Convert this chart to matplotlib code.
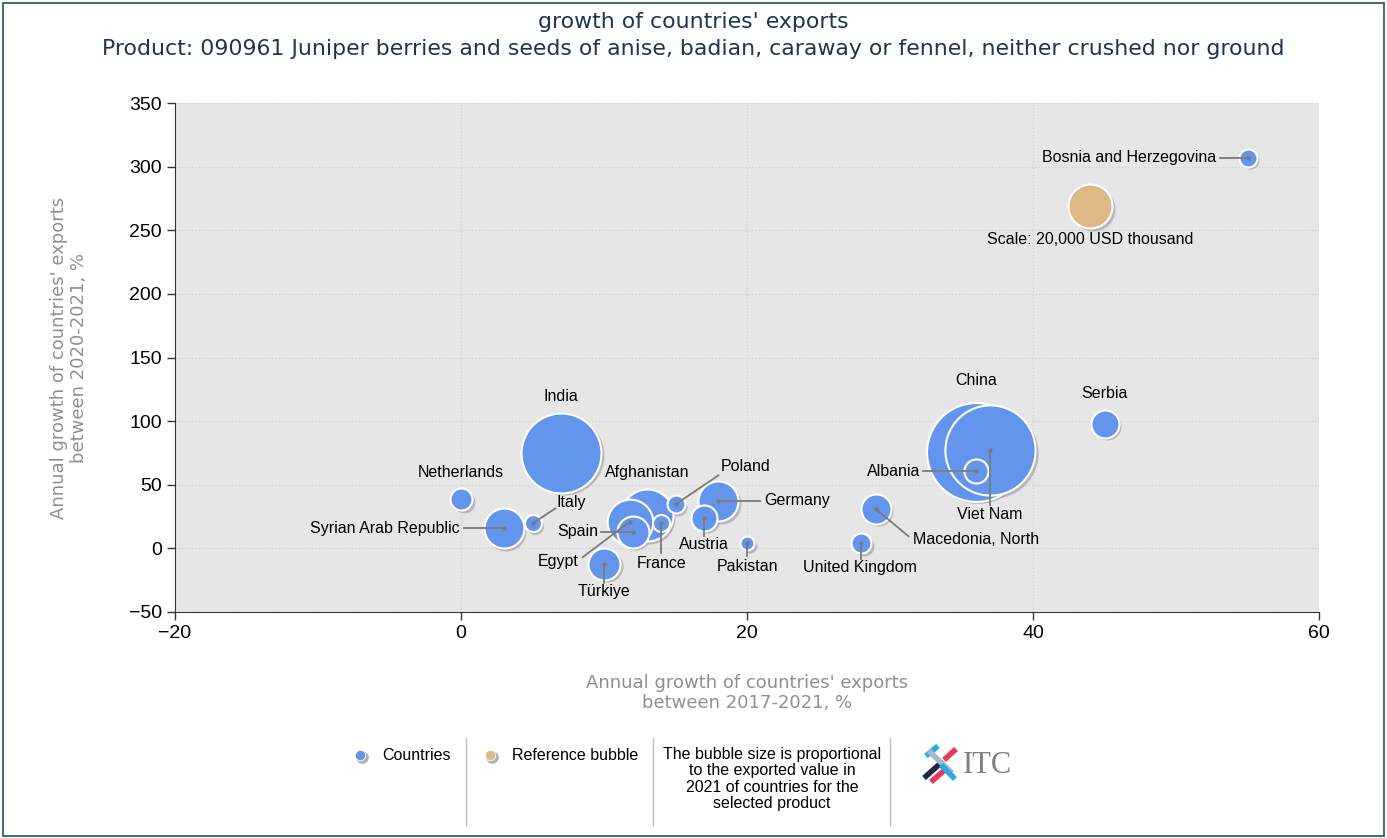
import numpy as np
import matplotlib
matplotlib.use("Agg")
import matplotlib.pyplot as plt
import matplotlib.transforms as mtransforms
from matplotlib.patches import Rectangle

# Data: growth 2017-2021 (x), growth 2020-2021 (y), exported value 2021 (USD thousand)
countries = ["China", "Viet Nam", "India", "Afghanistan", "Egypt", "Germany",
             "Syrian Arab Republic", "Spain", "Türkiye", "Macedonia, North",
             "Serbia", "Austria", "Albania", "Netherlands", "United Kingdom",
             "Bosnia and Herzegovina", "Poland", "France", "Italy", "Pakistan"]
growth_5y = [36.0, 37.0, 7.0, 13.0, 11.8, 18.0, 3.0, 12.0, 10.0, 29.0,
             45.0, 17.0, 36.0, 0.0, 28.0, 55.0, 15.0, 14.0, 5.0, 20.0]
growth_1y = [76, 77, 75, 26, 21, 37, 16, 13, -12, 31,
             98, 24, 60.5, 38.5, 4, 307, 34.6, 20, 19.6, 4]
export_value = [101000, 84000, 66000, 28000, 21500, 16500, 16500, 10600, 10600, 9300,
                8100, 7000, 6000, 5000, 4100, 3350, 3300, 3000, 3000, 2000]

ref_x, ref_y, ref_value = 44.0, 269.0, 20000
ref_label = "Scale: 20,000 USD thousand"

# label layout: name -> (text x, text y, ha, end of leader line or None)
label_pos = {
    "Bosnia and Herzegovina": (52.8, 307, "right", (53.1, 307)),
    "Serbia": (45, 122, "center", None),
    "China": (36, 132, "center", None),
    "Viet Nam": (37, 27, "center", (37, 34)),
    "Albania": (32.1, 60.5, "right", (32.3, 60.5)),
    "Macedonia, North": (31.6, 7, "left", (31.3, 9.4)),
    "United Kingdom": (27.9, -15, "center", (28, -8)),
    "Pakistan": (20, -14, "center", (20, -6)),
    "Germany": (21.2, 38, "left", (20.9, 37)),
    "Austria": (17, 3, "center", (17, 10)),
    "Poland": (19.9, 64, "center", (18.0, 57.4)),
    "France": (14, -12, "center", (14, -4)),
    "Spain": (9.6, 13, "right", (9.8, 13)),
    "Egypt": (8.2, -10, "right", (8.5, -7)),
    "Türkiye": (10, -34, "center", (10, -27)),
    "Afghanistan": (13, 60, "center", None),
    "India": (7, 119, "center", None),
    "Netherlands": (0, 60, "center", None),
    "Syrian Arab Republic": (-0.1, 16, "right", (0.2, 16)),
    "Italy": (7.7, 36, "center", (6.6, 31.4)),
}

BLUE = "#6495ED"
TAN = "#DEB887"
LAB = "Liberation Sans"

fig = plt.figure(figsize=(13.87, 8.38), dpi=100)
fig.patch.set_facecolor("white")
fig.patches.append(Rectangle((0.002, 0.002), 0.996, 0.995, transform=fig.transFigure,
                             fill=False, edgecolor="#4f6f6f", linewidth=1.5))

ax = fig.add_axes([0.1262, 0.2697, 0.8248, 0.6073])
ax.set_facecolor("#E6E6E6")
ax.set_xlim(-20, 60)
ax.set_ylim(-50, 350)
ax.set_xticks([-20, 0, 20, 40, 60])
ax.set_yticks(range(-50, 351, 50))
ax.grid(True, color="#CFCFCF", linestyle=(0, (1, 2)), linewidth=0.8)
ax.set_axisbelow(True)
for s in ["top", "right"]:
    ax.spines[s].set_visible(False)
for s in ["left", "bottom"]:
    ax.spines[s].set_color("#333333")
ax.tick_params(direction="out", length=6, width=1, colors="#333333", labelcolor="black",
               labelsize=14)
for lab in ax.get_xticklabels() + ax.get_yticklabels():
    lab.set_family(LAB)


def px_to_s(v):
    # bubble area proportional to value; reference bubble has 22 px radius
    r_px = 22 * np.sqrt(v / ref_value)
    return (2 * r_px * 72 / fig.dpi) ** 2


shadow = mtransforms.offset_copy(ax.transData, fig=fig, x=1.8, y=-1.8, units="points")

# reference bubble
ax.scatter([ref_x], [ref_y], s=px_to_s(ref_value), color="#9a9a9a", alpha=0.6,
           transform=shadow, linewidths=0, zorder=2)
ax.scatter([ref_x], [ref_y], s=px_to_s(ref_value), color=TAN, edgecolor="white",
           linewidths=1.5, zorder=3)
ax.text(ref_x, 243, ref_label, ha="center", va="center", fontsize=11.5, family=LAB, zorder=6)

order = np.argsort(export_value)[::-1]
for i in order:
    sz = px_to_s(export_value[i])
    ax.scatter([growth_5y[i]], [growth_1y[i]], s=sz, color="#9a9a9a", alpha=0.6,
               transform=shadow, linewidths=0, zorder=2)
    ax.scatter([growth_5y[i]], [growth_1y[i]], s=sz, color=BLUE, edgecolor="white",
               linewidths=1.5, zorder=3)

for i, name in enumerate(countries):
    tx, ty, ha, end = label_pos[name]
    ax.text(tx, ty, name, ha=ha, va="center", fontsize=11.5, family=LAB, zorder=6)
    if end is not None:
        ax.plot([growth_5y[i], end[0]], [growth_1y[i], end[1]], color="#7a7a7a",
                linewidth=1.3, zorder=5)
        ax.scatter([growth_5y[i]], [growth_1y[i]], s=10, color="#7a7a7a", zorder=5,
                   linewidths=0)

ax.set_xlabel("Annual growth of countries' exports\nbetween 2017-2021, %", fontsize=13,
              color="#8f8f8f", labelpad=23, linespacing=1.15)
ax.set_ylabel("Annual growth of countries' exports\nbetween 2020-2021, %", fontsize=13,
              color="#8f8f8f", labelpad=29, linespacing=1.15)

fig.text(0.5, 0.974, "growth of countries' exports", ha="center", va="center",
         fontsize=15.8, color="#1F3550")
fig.text(0.5, 0.942, "Product: 090961 Juniper berries and seeds of anise, badian, caraway or fennel, "
         "neither crushed nor ground", ha="center", va="center", fontsize=15.8, color="#1F3550")

# legend row
for xf, col, txt in [(360, BLUE, "Countries"), (490, TAN, "Reference bubble")]:
    fig.add_artist(plt.Line2D([(xf + 1.5) / 1387], [1 - 757 / 838], marker="o",
                              markersize=8, color="#b0b0b0", linestyle="none",
                              transform=fig.transFigure))
    fig.add_artist(plt.Line2D([xf / 1387], [1 - 755 / 838], marker="o", markersize=7.5,
                              color=col, markeredgecolor="white", markeredgewidth=0.6,
                              linestyle="none", transform=fig.transFigure))
    fig.text((xf + 22) / 1387, 1 - 755 / 838, txt, ha="left", va="center",
             fontsize=11.5, family=LAB)
for xs in [466, 653, 890]:
    fig.add_artist(plt.Line2D([xs / 1387, xs / 1387], [1 - 738 / 838, 1 - 826 / 838],
                              transform=fig.transFigure, color="#bdbdbd", linewidth=1))
fig.text(772 / 1387, 1 - 779 / 838, "The bubble size is proportional\nto the exported value in\n"
         "2021 of countries for the\nselected product", ha="center", va="center",
         fontsize=11.5, family=LAB, linespacing=1.1)

# ITC logo
logo_bars = [((926, 756), (938, 746), "#29ABE2"), ((944, 760), (956, 749), "#E8395A"),
             ((924, 778), (942, 762), "#1B2A4A"), ((931, 782), (948, 767), "#E8395A"),
             ((929, 751), (952, 773), "#A7B8CC"), ((941, 765), (955, 779), "#29ABE2")]
for (x0, y0), (x1, y1), c in logo_bars:
    fig.add_artist(plt.Line2D([x0 / 1387, x1 / 1387], [1 - y0 / 838, 1 - y1 / 838],
                              transform=fig.transFigure, color=c, linewidth=4,
                              solid_capstyle="butt"))
fig.text(963 / 1387, 1 - 765 / 838, "ITC", ha="left", va="center", fontsize=22,
         family="Liberation Serif", color="#7f7f7f")

fig.savefig("out.png", dpi=100)
